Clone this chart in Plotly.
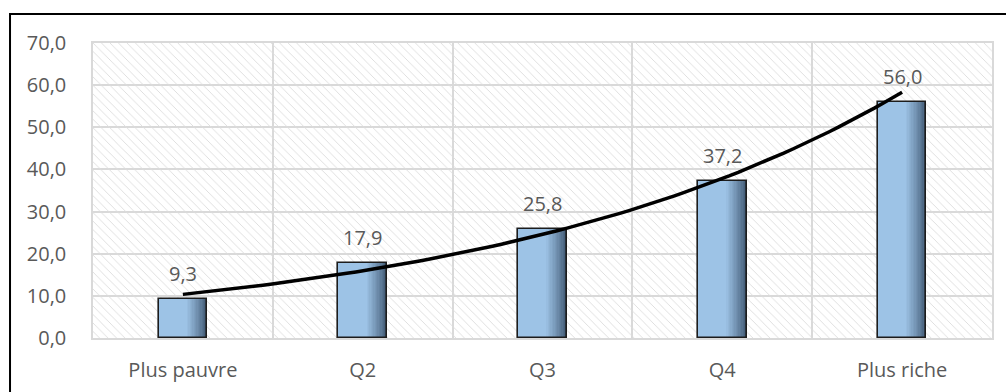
import numpy as np
import plotly.graph_objects as go

# Share of each wealth quintile
categories = ["Plus pauvre", "Q2", "Q3", "Q4", "Plus riche"]
values = [9.3, 17.9, 25.8, 37.2, 56.0]
y_ticks = [0, 10, 20, 30, 40, 50, 60, 70]

x_pos = list(range(len(categories)))
FONT = "Open Sans"
TXT = "#595959"
GRID = "#d9d9d9"
BAR_W = 0.27

fig = go.Figure()

# Hatched plot background (one full-height cell per category)
fig.add_trace(go.Bar(
    x=x_pos, y=[y_ticks[-1]] * len(x_pos), width=1,
    marker=dict(color="rgba(0,0,0,0)", line=dict(width=0),
                pattern=dict(shape="\\", fgcolor="#dcdcdc", size=6,
                             solidity=0.15, fillmode="replace")),
    hoverinfo="skip", showlegend=False,
))

# Bars drawn as stacked layers to give a horizontal light-to-dark shading
light = np.array([0x9d, 0xc3, 0xe6])
dark = np.array([0x3c, 0x54, 0x6e])
n_layers = 16
for k in range(n_layers):
    t = k / (n_layers - 1)
    frac = 1.0 - 0.42 * t
    w = t ** 0.8
    rgb = (dark * (1 - w) + light * w).round().astype(int)
    fig.add_trace(go.Bar(
        x=x_pos, y=values, width=BAR_W * frac, offset=-BAR_W / 2,
        marker=dict(color=f"rgb({rgb[0]},{rgb[1]},{rgb[2]})", line=dict(width=0)),
        hoverinfo="skip", showlegend=False,
    ))
# Bar outlines
fig.add_trace(go.Bar(
    x=x_pos, y=values, width=BAR_W, offset=-BAR_W / 2,
    marker=dict(color="rgba(0,0,0,0)", line=dict(width=1.6, color="#1c1c1c")),
    hoverinfo="skip", showlegend=False,
))

# Exponential trend line fitted on the values
coef = np.polyfit(np.array(x_pos, dtype=float), np.log(values), 1)
xs = np.linspace(x_pos[0], x_pos[-1], 80)
fig.add_trace(go.Scatter(
    x=xs, y=np.exp(coef[1] + coef[0] * xs), mode="lines",
    line=dict(color="black", width=3.5), hoverinfo="skip", showlegend=False,
))

# Value labels above bars
for xi, v in zip(x_pos, values):
    fig.add_annotation(
        x=xi, y=v, text=f"{v:.1f}".replace(".", ","), showarrow=False,
        yanchor="bottom", yshift=10, font=dict(family=FONT, size=20, color=TXT),
    )

# Outer chart frame
fig.add_shape(type="rect", xref="paper", yref="paper",
              x0=-0.0923, x1=1.2, y0=-0.4, y1=1.098,
              line=dict(color="black", width=2), layer="below")

fig.update_layout(
    width=1006, height=392,
    margin=dict(l=93, r=14, t=43, b=54, autoexpand=False),
    paper_bgcolor="white", plot_bgcolor="white",
    barmode="overlay", bargap=0,
    separators=",.",
    font=dict(family=FONT, size=20, color=TXT),
    xaxis=dict(
        range=[-0.5, 4.5], tickvals=x_pos, ticktext=categories,
        showgrid=False, zeroline=False, ticks="", automargin=False,
        showline=True, mirror=True, linecolor=GRID, linewidth=1.5,
        ticklabelstandoff=13,
        minor=dict(tick0=0.5, dtick=1, showgrid=True, gridcolor=GRID, gridwidth=1.5, ticks=""),
        tickfont=dict(family=FONT, size=20, color=TXT),
    ),
    yaxis=dict(
        range=[0, 70], tickvals=y_ticks, tickformat=".1f", automargin=False,
        showgrid=True, gridcolor=GRID, gridwidth=1.5, zeroline=False,
        showline=True, mirror=True, linecolor=GRID, linewidth=1.5,
        ticks="", ticklabelstandoff=21,
        tickfont=dict(family=FONT, size=20, color=TXT),
    ),
)

fig.write_html("out.html")
